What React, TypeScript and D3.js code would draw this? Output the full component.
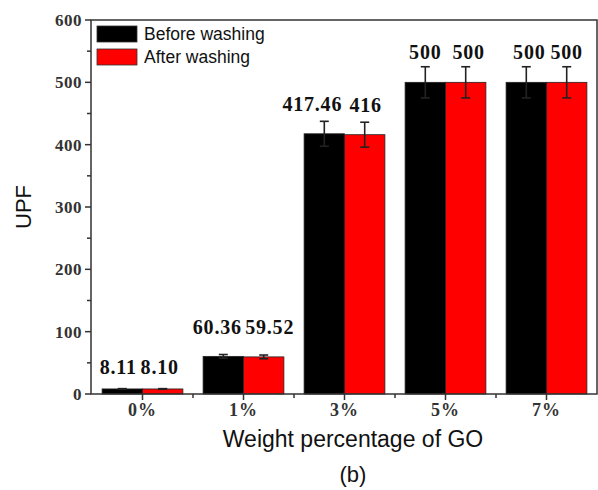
import { useEffect, useRef } from 'react';
import * as d3 from 'd3';

const categories = ['0%', '1%', '3%', '5%', '7%'];
const seriesNames = ['Before washing', 'After washing'];
const beforeValues = [8.11, 60.36, 417.46, 500, 500];
const afterValues = [8.10, 59.52, 416, 500, 500];
const beforeErrors = [0.5, 3, 20, 25, 25];
const afterErrors = [0.5, 3, 20, 25, 25];
const beforeLabels = ['8.11', '60.36', '417.46', '500', '500'];
const afterLabels = ['8.10', '59.52', '416', '500', '500'];
const yTicks = [0, 100, 200, 300, 400, 500, 600];

const colors = ['#000000', '#ff0000'];
// labels in the figure sit unevenly: gap above the error cap and sideways nudge
const labelGap = [15, 21, 10, 8, 8];
const beforeShift = [-4, -6, -12, 0, 3];
const afterShift = [-3, 6, 1, 3, 0];

const App = () => {
    const ref = useRef(null);

    useEffect(() => {
        const svg = d3.select(ref.current);
        svg.selectAll('*').remove();

        const left = 91, right = 597, top = 20, bottom = 394;
        const serif = '"Liberation Serif", "Times New Roman", serif';
        const sans = '"Liberation Sans", Arial, sans-serif';

        const x = d3.scaleBand().domain(categories).range([left + 1, right]).paddingInner(0.2).paddingOuter(0.1);
        const x0 = d3.scaleBand().domain(categories).range([left + 1, right]).padding(0);
        const sub = d3.scaleBand().domain(seriesNames).range([0, x.bandwidth()]);
        const y = d3.scaleLinear().domain([0, 600]).range([bottom, top]);

        const series = [
            { name: seriesNames[0], values: beforeValues, errors: beforeErrors, labels: beforeLabels, shift: beforeShift },
            { name: seriesNames[1], values: afterValues, errors: afterErrors, labels: afterLabels, shift: afterShift },
        ];

        // bars
        series.forEach((s, si) => {
            svg.append('g')
                .selectAll('rect')
                .data(categories)
                .join('rect')
                .attr('x', c => x(c) + sub(s.name))
                .attr('y', (c, i) => y(s.values[i]))
                .attr('width', sub.bandwidth())
                .attr('height', (c, i) => y(0) - y(s.values[i]))
                .attr('fill', colors[si])
                .attr('stroke', '#222')
                .attr('stroke-width', 0.8);
        });

        // error bars
        series.forEach(s => {
            const g = svg.append('g').attr('stroke', '#222').attr('stroke-width', 1.6);
            categories.forEach((c, i) => {
                const cx = x(c) + sub(s.name) + sub.bandwidth() / 2;
                const hi = y(s.values[i] + s.errors[i]);
                const lo = y(s.values[i] - s.errors[i]);
                g.append('line').attr('x1', cx).attr('x2', cx).attr('y1', hi).attr('y2', lo);
                g.append('line').attr('x1', cx - 4.5).attr('x2', cx + 4.5).attr('y1', hi).attr('y2', hi);
                g.append('line').attr('x1', cx - 4.5).attr('x2', cx + 4.5).attr('y1', lo).attr('y2', lo);
            });
        });

        // value labels
        series.forEach(s => {
            svg.append('g')
                .selectAll('text')
                .data(categories)
                .join('text')
                .attr('x', (c, i) => x(c) + sub(s.name) + sub.bandwidth() / 2 + s.shift[i])
                .attr('y', (c, i) => y(s.values[i] + s.errors[i]) - labelGap[i])
                .attr('text-anchor', 'middle')
                .style('font-family', serif)
                .style('font-weight', 'bold')
                .style('font-size', '20px')
                .style('letter-spacing', '0.8px')
                .attr('fill', '#111')
                .text((c, i) => s.labels[i]);
        });

        // frame
        svg.append('rect')
            .attr('x', left).attr('y', top)
            .attr('width', right - left).attr('height', bottom - top)
            .attr('fill', 'none').attr('stroke', '#333').attr('stroke-width', 1.5);

        // y axis ticks
        const yAxis = svg.append('g').attr('stroke', '#333').attr('stroke-width', 1.5);
        yTicks.forEach(t => {
            yAxis.append('line').attr('x1', left - 6).attr('x2', left).attr('y1', y(t)).attr('y2', y(t));
        });
        d3.range(50, 600, 100).forEach(t => {
            yAxis.append('line').attr('x1', left - 4).attr('x2', left).attr('y1', y(t)).attr('y2', y(t));
        });
        svg.append('g')
            .selectAll('text')
            .data(yTicks)
            .join('text')
            .attr('x', left - 9)
            .attr('y', d => y(d))
            .attr('dy', '0.35em')
            .attr('text-anchor', 'end')
            .style('font-family', serif)
            .style('font-weight', 'bold')
            .style('font-size', '17px')
            .style('letter-spacing', '0.5px')
            .attr('fill', '#333')
            .text(d => d);

        // x axis ticks
        const xAxis = svg.append('g').attr('stroke', '#333').attr('stroke-width', 1.5);
        categories.forEach(c => {
            const cx = x(c) + x.bandwidth() / 2;
            xAxis.append('line').attr('x1', cx).attr('x2', cx).attr('y1', bottom).attr('y2', bottom + 6);
        });
        categories.slice(1).forEach(c => {
            const bx = x0(c);
            xAxis.append('line').attr('x1', bx).attr('x2', bx).attr('y1', bottom).attr('y2', bottom + 4);
        });
        svg.append('g')
            .selectAll('text')
            .data(categories)
            .join('text')
            .attr('x', c => x(c) + x.bandwidth() / 2)
            .attr('y', bottom + 22)
            .attr('text-anchor', 'middle')
            .style('font-family', serif)
            .style('font-weight', 'bold')
            .style('font-size', '18px')
            .style('letter-spacing', '1px')
            .attr('fill', '#333')
            .text(d => d);

        // legend
        const legend = svg.append('g');
        seriesNames.forEach((n, i) => {
            legend.append('rect')
                .attr('x', 97).attr('y', 26 + i * 23)
                .attr('width', 40).attr('height', 16)
                .attr('fill', colors[i]).attr('stroke', '#333').attr('stroke-width', 0.8);
            legend.append('text')
                .attr('x', 144).attr('y', 40 + i * 23)
                .style('font-family', sans)
                .style('font-size', '17.5px')
                .attr('fill', '#111')
                .text(n);
        });

        // axis titles
        svg.append('text')
            .attr('transform', `translate(31,${(top + bottom) / 2}) rotate(-90)`)
            .attr('text-anchor', 'middle')
            .style('font-family', sans)
            .style('font-size', '22px')
            .attr('fill', '#111')
            .text('UPF');
        svg.append('text')
            .attr('x', 353).attr('y', 447)
            .attr('text-anchor', 'middle')
            .style('font-family', sans)
            .style('font-size', '23px')
            .attr('fill', '#111')
            .text('Weight percentage of GO');
        svg.append('text')
            .attr('x', 353).attr('y', 482)
            .attr('text-anchor', 'middle')
            .style('font-family', sans)
            .style('font-size', '22px')
            .attr('fill', '#111')
            .text('(b)');
    }, []);

    return (
        <svg ref={ref} width={598} height={490} style={{ position: 'absolute', left: 0, top: 0, background: '#fff' }} />
    );
};

export default App;
